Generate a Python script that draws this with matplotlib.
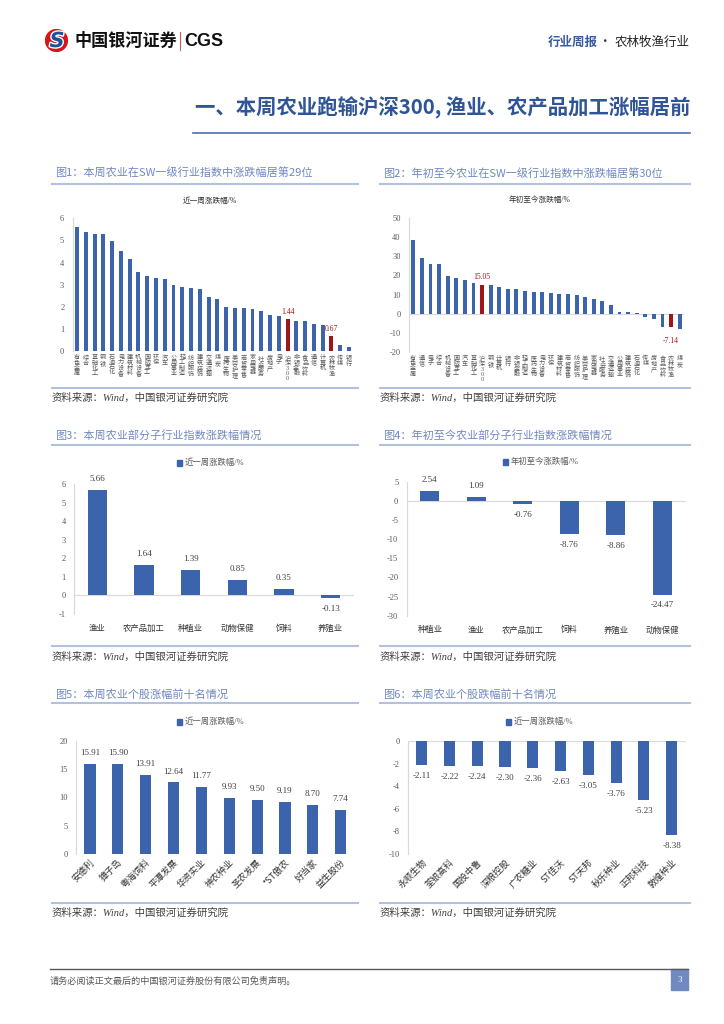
import matplotlib
matplotlib.use('Agg')
import matplotlib.pyplot as plt
from matplotlib.patches import Rectangle, Circle
from matplotlib.lines import Line2D
import matplotlib.patheffects as pe

plt.rcParams['font.family'] = ['Liberation Serif', 'Noto Sans CJK SC']
plt.rcParams['axes.unicode_minus'] = False

# ---- data ----
wk_names = ['有色金属', '综合', '基础化工', '钢铁', '石油石化', '电力设备', '建筑材料', '机械设备',
            '国防军工', '环保', '汽车', '公用事业', '轻工制造', '纺织服饰', '建筑装饰', '交通运输',
            '煤炭', '医药生物', '美容护理', '商贸零售', '家用电器', '社会服务', '房地产', '电子',
            '沪深300', '非银金融', '食品饮料', '通信', '计算机', '农林牧渔', '传媒', '银行']
wk_vals = [5.60, 5.40, 5.31, 5.29, 4.98, 4.51, 4.18, 3.56, 3.38, 3.29, 3.27, 2.97, 2.91, 2.87,
           2.82, 2.44, 2.34, 2.01, 1.95, 1.93, 1.89, 1.81, 1.61, 1.60, 1.44, 1.37, 1.37, 1.22,
           1.19, 0.67, 0.27, 0.17]

ytd_names = ['有色金属', '通信', '电子', '综合', '机械设备', '国防军工', '汽车', '基础化工',
             '沪深300', '钢铁', '计算机', '银行', '非银金融', '轻工制造', '医药生物', '电力设备',
             '环保', '建筑材料', '商贸零售', '纺织服饰', '美容护理', '家用电器', '社会服务',
             '交通运输', '公用事业', '建筑装饰', '石油石化', '传媒', '房地产', '食品饮料',
             '农林牧渔', '煤炭']
ytd_vals = [38.6, 29.0, 26.0, 25.8, 19.9, 18.5, 17.6, 16.0, 15.05, 14.9, 14.2, 12.9, 12.8, 12.1,
            11.5, 11.2, 10.8, 10.3, 10.2, 10.0, 8.6, 7.8, 6.5, 4.6, 0.7, 0.6, 0.2, -1.9, -2.6,
            -6.8, -7.14, -7.9]
highlight = ['沪深300', '农林牧渔']

sub_wk_names = ['渔业', '农产品加工', '种植业', '动物保健', '饲料', '养殖业']
sub_wk_vals = [5.66, 1.64, 1.39, 0.85, 0.35, -0.13]

sub_ytd_names = ['种植业', '渔业', '农产品加工', '饲料', '养殖业', '动物保健']
sub_ytd_vals = [2.54, 1.09, -0.76, -8.76, -8.86, -24.47]

top_names = ['安德利', '獐子岛', '粤海饲料', '平潭发展', '华资实业', '神农种业', '圣农发展',
             '*ST傲农', '好当家', '益生股份']
top_vals = [15.91, 15.90, 13.91, 12.64, 11.77, 9.93, 9.50, 9.19, 8.70, 7.74]

low_names = ['永顺生物', '荃银高科', '国投中鲁', '深粮控股', '广农糖业', 'ST佳沃', 'ST天邦',
             '秋乐种业', '正邦科技', '敦煌种业']
low_vals = [-2.11, -2.22, -2.24, -2.30, -2.36, -2.63, -3.05, -3.76, -5.23, -8.38]

# ---- layout helpers (pixel coords, origin top-left) ----
W, H = 724, 1024
BLUE = '#3b64ad'
RED = '#a01616'
GRAY = '#595959'
TITLE_C = '#7088c0'
LINE_C = '#b3c1de'
CJK = ['Noto Sans CJK SC', 'DejaVu Sans']

fig = plt.figure(figsize=(W / 100, H / 100), dpi=100)


def box(x0, y0, x1, y1):
    return [x0 / W, 1 - y1 / H, (x1 - x0) / W, (y1 - y0) / H]


def ftext(x, y, s, **kw):
    fig.text(x / W, 1 - y / H, s, **kw)


def hline(x0, x1, y, color, lw):
    fig.add_artist(Line2D([x0 / W, x1 / W], [1 - y / H, 1 - y / H], color=color, lw=lw))


def legend(x, y, label):
    fig.add_artist(Rectangle((x / W, 1 - (y + 3) / H), 5 / W, 6 / H, color=BLUE,
                             transform=fig.transFigure))
    ftext(x + 8, y, label, fontsize=6, color=GRAY, va='center', ha='left')


def style(ax, lo, hi, step, pad=5):
    ax.set_ylim(lo, hi)
    ticks = []
    t = lo
    while t <= hi + 1e-9:
        ticks.append(t)
        t += step
    ax.set_yticks(ticks)
    ax.set_yticklabels([f'{v:g}' for v in ticks])
    for s in ['top', 'right', 'bottom']:
        ax.spines[s].set_visible(False)
    ax.spines['left'].set_color('#d9d9d9')
    ax.spines['left'].set_linewidth(0.8)
    ax.axhline(0, color='#d9d9d9', lw=0.8, zorder=1)
    ax.tick_params(axis='y', length=0, labelsize=6, colors=GRAY, pad=pad)
    ax.tick_params(axis='x', length=0)
    ax.patch.set_alpha(0)


# ---- page header ----
logo = fig.add_axes(box(44, 29, 69, 52))
logo.set_xlim(-1, 1)
logo.set_ylim(-1, 1)
logo.set_aspect('equal')
logo.axis('off')
logo.add_patch(Circle((0, 0), 0.95, color='#d7141a'))
logo.text(0.05, -0.05, 'S', fontsize=15, fontweight='bold', style='italic', color='#1d4f9c',
          ha='center', va='center', family='DejaVu Sans',
          path_effects=[pe.withStroke(linewidth=2, foreground='white')])

ftext(74, 41, '中国银河证券', fontsize=12.3, fontweight='bold', color='#111111',
      va='center', family=CJK)
fig.add_artist(Line2D([180 / W, 180 / W], [1 - 32 / H, 1 - 50 / H], color='#c06060', lw=0.8))
ftext(184, 41, 'CGS', fontsize=13, fontweight='bold', color='#111111', va='center',
      family='Liberation Sans')

ftext(598, 42, '行业周报', fontsize=9, fontweight='bold', color='#3a5ba0', va='center',
      ha='right', family=CJK)
ftext(604, 42, '·', fontsize=9, color='#333333', va='center', ha='center', family=CJK)
ftext(690, 42, '农林牧渔行业', fontsize=9, color='#222222', va='center', ha='right', family=CJK)

ftext(690, 108, '一、本周农业跑输沪深300, 渔业、农产品加工涨幅居前', fontsize=14.7,
      fontweight='bold', color='#2f5597', va='center', ha='right', family=CJK)
hline(193, 690, 133, '#4a6fb5', 1.2)

# ---- panel frames ----
panels = [
    (52, 358, 173, 184, 388, 398, '图1：本周农业在SW一级行业指数中涨跌幅居第29位'),
    (380, 690, 173, 184, 388, 398, '图2：年初至今农业在SW一级行业指数中涨跌幅居第30位'),
    (52, 358, 435, 445, 646, 657, '图3：本周农业部分子行业指数涨跌幅情况'),
    (380, 690, 435, 445, 646, 657, '图4：年初至今农业部分子行业指数涨跌幅情况'),
    (52, 358, 694, 703, 903, 913, '图5：本周农业个股涨幅前十名情况'),
    (380, 690, 694, 703, 903, 913, '图6：本周农业个股跌幅前十名情况'),
]
for x0, x1, ty, ly, sy, sty, title in panels:
    ftext(x0 + 3, ty, title, fontsize=8, color=TITLE_C, va='center', family=CJK)
    hline(x0, x1, ly, LINE_C, 1.5)
    hline(x0, x1, sy, LINE_C, 1.5)
    ftext(x0, sty, '资料来源：Wind，中国银河证券研究院', fontsize=7.5, color='#404040',
          style='italic', va='center')

# ---- chart 1: weekly SW industries ----
ax1 = fig.add_axes(box(72.6, 218.3, 353.4, 351))
cols1 = [RED if n in highlight else BLUE for n in wk_names]
ax1.bar(range(len(wk_vals)), wk_vals, width=0.45, color=cols1, zorder=2)
style(ax1, 0, 6, 1, pad=6)
ax1.set_xlim(-0.5, len(wk_vals) - 0.5)
ax1.set_xticks(range(len(wk_names)))
ax1.set_xticklabels(['\n'.join(n) for n in wk_names], fontsize=4.4, color=GRAY,
                    linespacing=1.0, va='top')
ax1.tick_params(axis='x', pad=3)
for i, (n, v) in enumerate(zip(wk_names, wk_vals)):
    if n in highlight:
        ax1.annotate(f'{v:.2f}', (i, v), xytext=(0, 2), textcoords='offset points',
                     ha='center', va='bottom', fontsize=5.5, color=RED)
ftext(210, 201, '近一周涨跌幅/%', fontsize=5.5, color='#333333', ha='center', va='center')

# ---- chart 2: YTD SW industries ----
ax2 = fig.add_axes(box(409, 218.3, 684, 351.7))
cols2 = [RED if n in highlight else BLUE for n in ytd_names]
ax2.bar(range(len(ytd_vals)), ytd_vals, width=0.45, color=cols2, zorder=2)
style(ax2, -20, 50, 10, pad=6)
ax2.set_xlim(-0.5, len(ytd_vals) - 0.5)
ax2.set_xticks(range(len(ytd_names)))
ax2.set_xticklabels(['\n'.join(n) for n in ytd_names], fontsize=4.4, color=GRAY,
                    linespacing=1.0, va='top')
ax2.tick_params(axis='x', pad=3)
for i, (n, v) in enumerate(zip(ytd_names, ytd_vals)):
    if n in highlight:
        ax2.annotate(f'{v:.2f}', (i, v), xytext=(0, 3 if v >= 0 else -7),
                     textcoords='offset points', ha='center',
                     va='bottom' if v >= 0 else 'top', fontsize=5.5, color=RED)
ftext(540, 200, '年初至今涨跌幅/%', fontsize=5.5, color='#333333', ha='center', va='center')


# ---- charts 3-6 ----
def simple_bars(rect, names, vals, lo, hi, step, rotate=False, width=0.41):
    ax = fig.add_axes(box(*rect))
    ax.bar(range(len(vals)), vals, width=width, color=BLUE, zorder=2)
    style(ax, lo, hi, step, pad=6)
    ax.set_xlim(-0.5, len(vals) - 0.5)
    ax.set_xticks(range(len(names)))
    if rotate:
        ax.set_xticklabels(names, fontsize=6.5, color='#333333', rotation=45, ha='right',
                           rotation_mode='anchor', family=CJK)
        ax.tick_params(axis='x', pad=3)
    else:
        ax.set_xticklabels(names, fontsize=6, color='#333333', family=CJK)
        ax.tick_params(axis='x', pad=7)
    for i, v in enumerate(vals):
        up = v >= 0
        ax.annotate(f'{v:.2f}', (i, v), xytext=(0, 5 if up else -5),
                    textcoords='offset points', ha='center',
                    va='bottom' if up else 'top', fontsize=6.5, color='#404040')
    return ax


simple_bars((74, 484, 354, 614), sub_wk_names, sub_wk_vals, -1, 6, 1)
legend(177, 463, '近一周涨跌幅/%')

simple_bars((406.7, 481.7, 685.6, 615.7), sub_ytd_names, sub_ytd_vals, -30, 5, 5)
legend(503, 462, '年初至今涨跌幅/%')

simple_bars((76, 741, 354.6, 853.7), top_names, top_vals, 0, 20, 5, rotate=True, width=0.4)
legend(177, 722, '近一周涨跌幅/%')

simple_bars((407.8, 741, 685.6, 853.7), low_names, low_vals, -10, 0, 2, rotate=True,
            width=0.4)
legend(506, 722, '近一周涨跌幅/%')

# ---- footer ----
hline(50, 688, 969, '#595959', 1.0)
ftext(50, 981, '请务必阅读正文最后的中国银河证券股份有限公司免责声明。', fontsize=6.6,
      color=GRAY, va='center', family=CJK)
fig.add_artist(Rectangle((671 / W, 1 - 990 / H), 17 / W, 21 / H, color='#7089c2',
                         transform=fig.transFigure))
ftext(679.5, 980, '3', fontsize=6.5, color='white', ha='center', va='center')

fig.savefig('out.png', dpi=100)
